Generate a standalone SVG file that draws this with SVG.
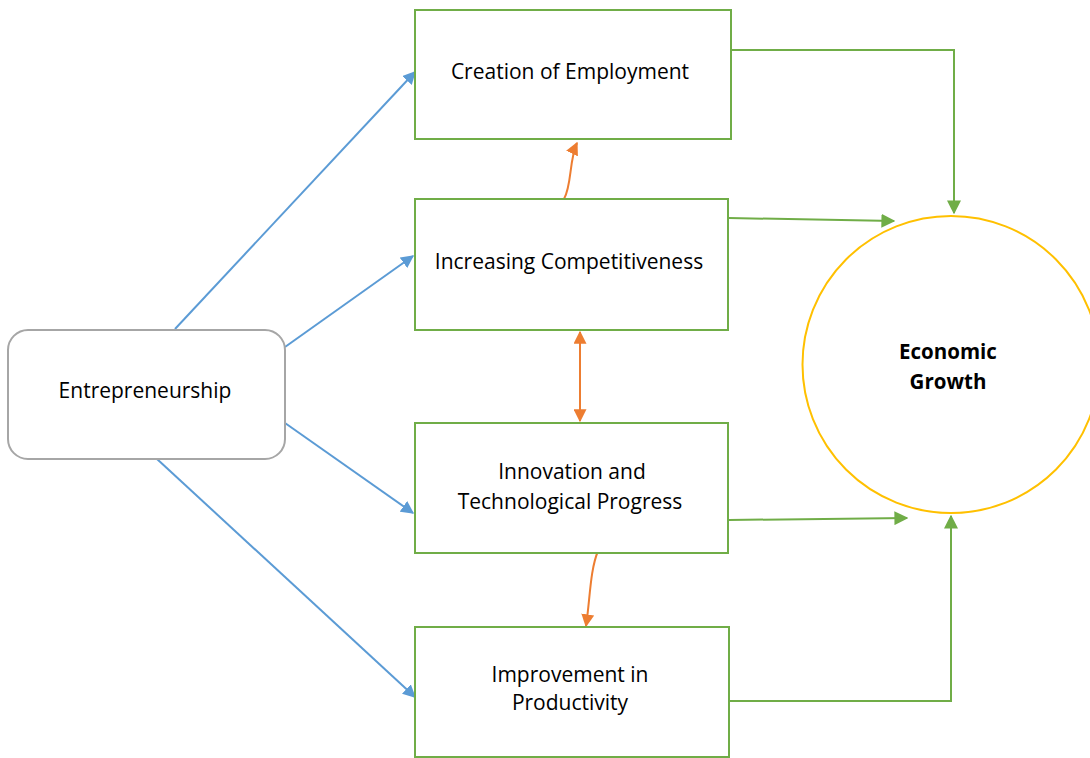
<svg xmlns="http://www.w3.org/2000/svg" width="1090" height="758" viewBox="0 0 1090 758">
<style>
.box{fill:#fff;stroke:#70ad47;stroke-width:2}
.t{font-family:"Open Sans","Noto Sans",sans-serif;font-size:21px;fill:#000;text-anchor:middle}
.b{font-weight:bold;font-size:20.5px}
.blue{stroke:#5b9bd5;stroke-width:2;fill:none}
.green{stroke:#70ad47;stroke-width:2;fill:none}
.orange{stroke:#ed7d31;stroke-width:2;fill:none}
</style>
<defs>
<marker id="ab" viewBox="0 0 10 10" refX="9" refY="5" markerWidth="6.5" markerHeight="6.5" orient="auto" markerUnits="strokeWidth"><path d="M0,0L10,5L0,10z" fill="#5b9bd5"/></marker>
<marker id="ag" viewBox="0 0 10 10" refX="9" refY="5" markerWidth="7" markerHeight="7" orient="auto" markerUnits="strokeWidth"><path d="M0,0L10,5L0,10z" fill="#70ad47"/></marker>
<marker id="ao" viewBox="0 0 10 10" refX="9" refY="5" markerWidth="6.5" markerHeight="6.5" orient="auto-start-reverse" markerUnits="strokeWidth"><path d="M0,0L10,5L0,10z" fill="#ed7d31"/></marker>
</defs>
<rect width="1090" height="758" fill="#fff"/>
<g id="connectors">
<path class="blue" d="M175,329L415,72" marker-end="url(#ab)"/>
<path class="blue" d="M285,347L413,256" marker-end="url(#ab)"/>
<path class="blue" d="M285,423L413,513" marker-end="url(#ab)"/>
<path class="blue" d="M157,459L415,697" marker-end="url(#ab)"/>
<path class="green" d="M729,50H954V213" marker-end="url(#ag)"/>
<path class="green" d="M729,218L894,221" marker-end="url(#ag)"/>
<path class="green" d="M729,520L907,518" marker-end="url(#ag)"/>
<path class="green" d="M729,701H951V516" marker-end="url(#ag)"/>
<path class="orange" d="M564,199C572,185 569,160 577,143" marker-end="url(#ao)"/>
<path class="orange" d="M580,332V421" marker-start="url(#ao)" marker-end="url(#ao)"/>
<path class="orange" d="M598,551C590,570 590,600 586,626" marker-end="url(#ao)"/>
</g>
<g id="entrepreneurship">
<rect x="8" y="330" width="277" height="129" rx="20" fill="#fff" stroke="#a6a6a6" stroke-width="2"/>
<text class="t" x="145" y="398">Entrepreneurship</text>
</g>
<g id="employment">
<rect class="box" x="415" y="10" width="316" height="129"/>
<text class="t" x="570" y="79">Creation of Employment</text>
</g>
<g id="competitiveness">
<rect class="box" x="415" y="199" width="313" height="131"/>
<text class="t" x="569" y="269">Increasing Competitiveness</text>
</g>
<g id="innovation">
<rect class="box" x="415" y="423" width="313" height="130"/>
<text class="t" x="572" y="479">Innovation and</text>
<text class="t" x="570" y="509">Technological Progress</text>
</g>
<g id="productivity">
<rect class="box" x="415" y="627" width="314" height="130"/>
<text class="t" x="570" y="682">Improvement in</text>
<text class="t" x="570" y="710">Productivity</text>
</g>
<g id="growth">
<circle cx="951" cy="364.5" r="148.5" fill="#fff" stroke="#ffc000" stroke-width="2"/>
<text class="t b" x="948" y="359">Economic</text>
<text class="t b" x="948" y="389">Growth</text>
</g>
</svg>
